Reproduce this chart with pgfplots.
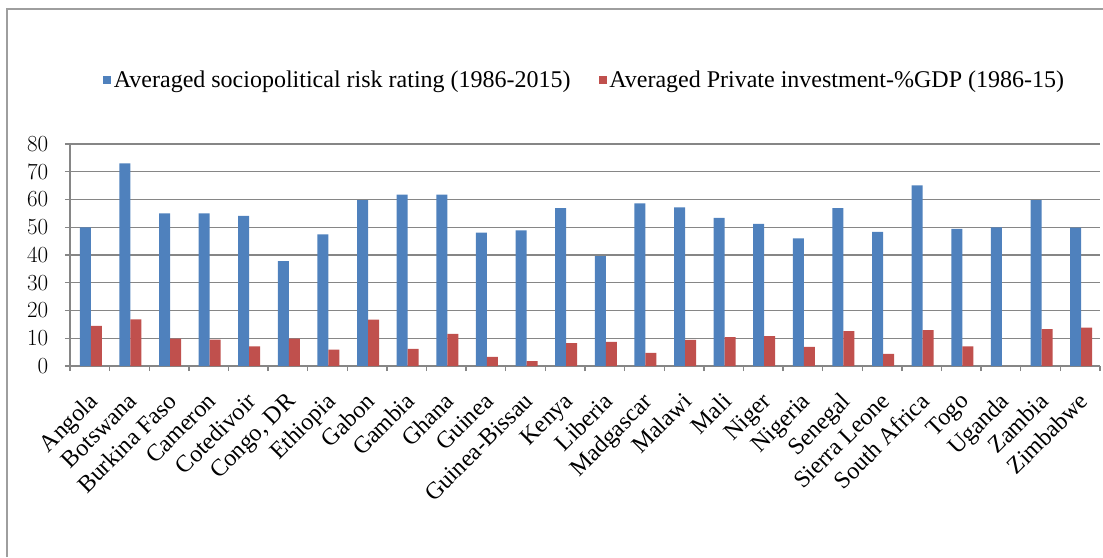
\documentclass[border=0pt]{standalone}
\usepackage{fontspec}
\setmainfont{Liberation Serif}
\usepackage{pgfplots}
\pgfplotsset{compat=1.18}
\definecolor{sbar}{HTML}{4F81BD}
\definecolor{rbar}{HTML}{C0504D}
\definecolor{gridc}{RGB}{134,134,134}
\begin{document}
\begin{tikzpicture}[x=1pt,y=1pt]
\path[use as bounding box] (-52.5,-143.25) rectangle (774.75,274.5);
\draw[gridc!80, line width=1.5pt] (-47.25,-143.25) -- (-47.25,267.75) -- (774.75,267.75);
\begin{axis}[
  at={(0,0)}, anchor=south west,
  width=772.5pt, height=166.5pt, scale only axis,
  xmin=-0.5, xmax=25.5, ymin=0, ymax=80,
  ybar, bar width=8.25pt,
  axis x line*=bottom, axis y line*=left,
  axis line style={-, gridc, line width=1pt},
  every outer x axis line/.append style={-},
  every outer y axis line/.append style={-},
  ytick={0,10,...,80},
  ymajorgrids, grid style={gridc, line width=1pt},
  tick align=outside,
  major tick length=3.75pt,
  ytick style={gridc, line width=1pt},
  xtick={0,...,25},
  xtick style={draw=none},
  extra x ticks={-0.5,0.5,...,25.5},
  extra x tick labels={},
  extra x tick style={xtick style={draw=gridc, line width=1pt}, grid=none},
  xticklabels={Angola, Botswana, Burkina Faso, Cameron, Cotedivoir, {Congo, DR}, Ethiopia, Gabon, Gambia, Ghana, Guinea, Guinea-Bissau, Kenya, Liberia, Madgascar, Malawi, Mali, Niger, Nigeria, Senegal, Sierra Leone, South Africa, Togo, Uganda, Zambia, Zimbabwe},
  xticklabel style={xshift=-2pt, yshift=-15pt, rotate=45, anchor=north east, font=\fontsize{18}{18}\selectfont, inner sep=0pt},
  yticklabel style={font=\fontsize{18}{18}\selectfont, xshift=-9pt},
  legend style={at={(0.5,1)}, yshift=48pt, anchor=center, draw=none, fill=none,
    legend columns=2, font=\fontsize{18}{18}\selectfont,
    /tikz/every even column/.append style={column sep=19pt},
    nodes={inner xsep=2pt}},
  legend image code/.code={\path[#1,draw=none] (0pt,-3pt) rectangle (6pt,3pt);},
]
\addplot[fill=sbar, draw=none, bar shift=-3.4pt] coordinates {
(0,50) (1,73) (2,55) (3,55) (4,54.1) (5,37.8) (6,47.4) (7,59.8) (8,61.8) (9,61.8)
(10,48.1) (11,48.9) (12,56.9) (13,39.6) (14,58.6) (15,57.2) (16,53.4) (17,51.2)
(18,46.0) (19,56.9) (20,48.3) (21,65.1) (22,49.4) (23,50.0) (24,59.8) (25,49.9)};
\addplot[fill=rbar, draw=none, bar shift=4.85pt] coordinates {
(0,14.5) (1,16.8) (2,9.9) (3,9.5) (4,7.1) (5,9.9) (6,5.9) (7,16.7) (8,6.2) (9,11.6)
(10,3.3) (11,1.8) (12,8.2) (13,8.7) (14,4.7) (15,9.4) (16,10.4) (17,10.8)
(18,6.9) (19,12.6) (20,4.4) (21,12.9) (22,7.1) (24,13.3) (25,13.8)};
\legend{Averaged sociopolitical risk rating (1986-2015), Averaged Private investment-\%GDP (1986-15)}
\end{axis}
\end{tikzpicture}
\end{document}
